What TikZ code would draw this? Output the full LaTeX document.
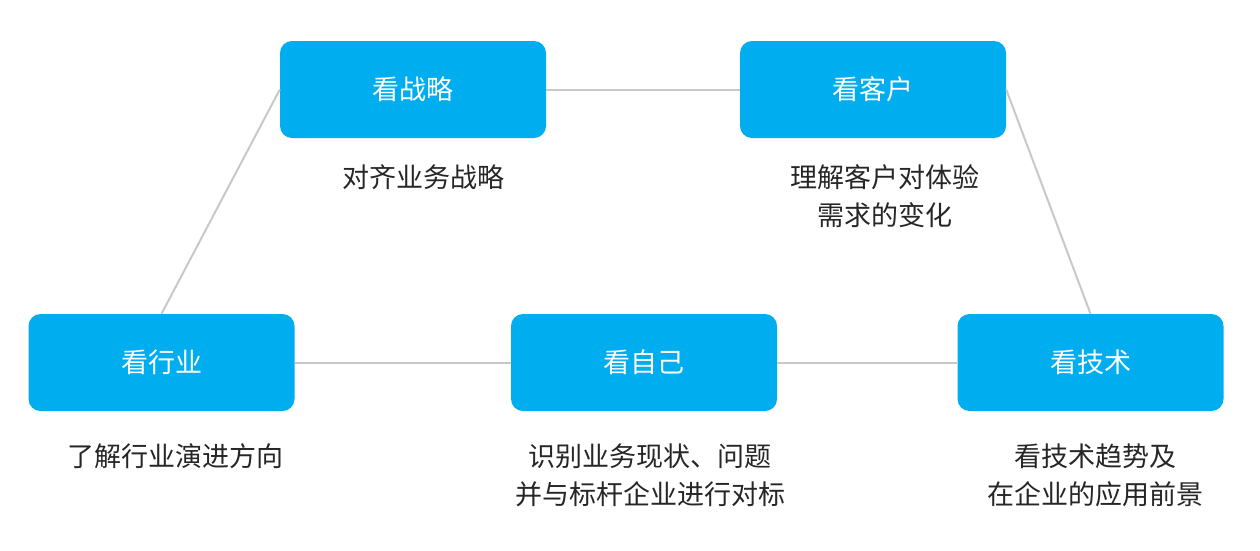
\documentclass[tikz,border=0pt]{standalone}
\usepackage{fontspec}
\newfontfamily\cjk{Noto Sans CJK SC}
\definecolor{boxc}{HTML}{00AEEF}
\definecolor{linec}{HTML}{C8C8C8}
\begin{document}
\begin{tikzpicture}[x=1pt,y=-1pt,
  bx/.style={fill=boxc,rounded corners=12pt,minimum width=266pt,minimum height=97pt,text=white,font=\cjk\fontsize{27}{30}\selectfont,inner sep=0pt},
  lb/.style={font=\cjk\fontsize{27}{38}\selectfont,align=center,text=black!85},
  ln/.style={draw=linec,line width=2pt}]
\useasboundingbox (0,0) rectangle (1260,550);
\node[bx] (a) at (413,89.5) {看战略};
\node[bx] (b) at (873,89.5) {看客户};
\node[bx] (c) at (161.5,362.5) {看行业};
\node[bx] (d) at (644,362.5) {看自己};
\node[bx] (e) at (1090.5,362.5) {看技术};
\draw[ln] (a.east) -- (b.west);
\draw[ln] (a.west) -- (c.north);
\draw[ln] (b.east) -- (e.north);
\draw[ln] (c.east) -- (d.west);
\draw[ln] (d.east) -- (e.west);
\node[lb] (la) at (423,177) {对齐业务战略};
\node[lb] (lb1) at (885,196) {理解客户对体验\\需求的变化};
\node[lb] (lc) at (175,456) {了解行业演进方向};
\node[lb] (ld) at (650,475) {识别业务现状、问题\\并与标杆企业进行对标};
\node[lb] (le) at (1095,475) {看技术趋势及\\在企业的应用前景};
\end{tikzpicture}
\end{document}
